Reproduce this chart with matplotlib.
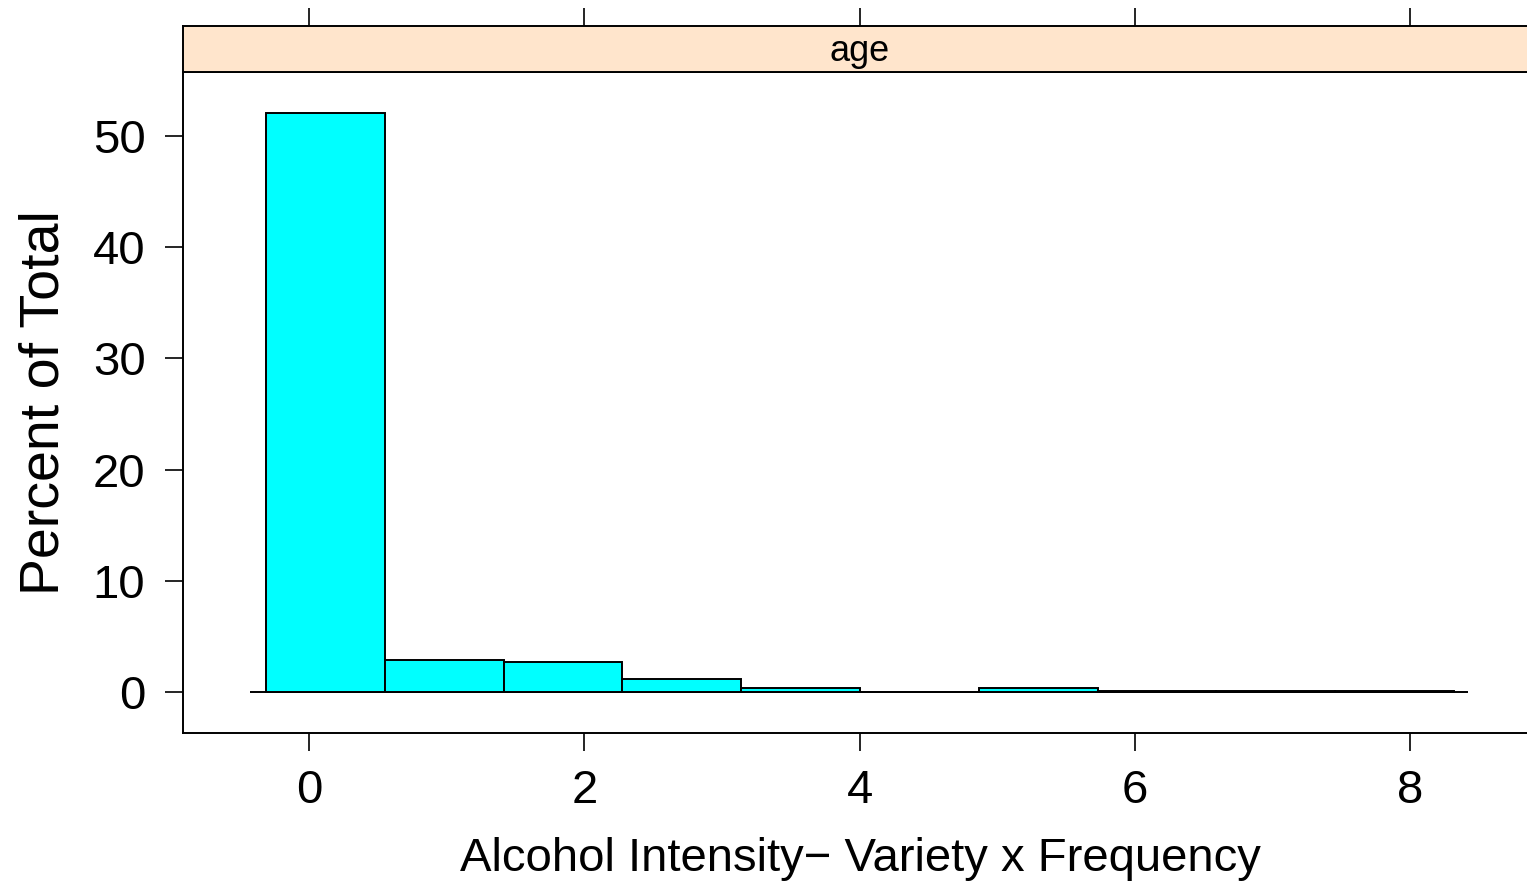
import numpy as np
import matplotlib
matplotlib.use("Agg")
import matplotlib.pyplot as plt

plt.rcParams['font.family'] = ['Liberation Sans', 'DejaVu Sans']

# histogram bins (lattice style, 10 equal bins) and percent of total
bin_lo, bin_hi = -0.313, 8.32
pct = [52.07, 2.88, 2.70, 1.17, 0.42, 0.0, 0.42, 0.09, 0.09, 0.09]
xticks = [0, 2, 4, 6, 8]
yticks = [0, 10, 20, 30, 40, 50]
strip_label = "age"
xlabel = "Alcohol Intensity\u2212 Variety x Frequency"
ylabel = "Percent of Total"

edges = np.linspace(bin_lo, bin_hi, len(pct) + 1)
widths = np.diff(edges)

W, H = 1527, 885
fig = plt.figure(figsize=(W / 100, H / 100), dpi=100)

# panel extends past the right edge, like the original
ax = fig.add_axes([183 / W, (H - 733) / H, (1537 - 183) / W, (733 - 72) / H])
strip = fig.add_axes([183 / W, (H - 72) / H, (1537 - 183) / W, (72 - 26) / H])

ax.bar(edges[:-1], pct, width=widths, align='edge', color='#00FFFF',
       edgecolor='black', linewidth=1.4, zorder=3)
ax.hlines(0, bin_lo - 0.116, bin_hi + 0.10, color='black', linewidth=1.4, zorder=2)

xr = bin_hi - bin_lo
ax.set_xlim(bin_lo - 0.07 * xr, bin_hi + 0.07 * xr)
top = max(pct)
ax.set_ylim(-0.07 * top, top * 1.07)

ax.set_xticks(xticks)
ax.set_yticks(yticks)
ax.tick_params(axis='both', direction='out', length=13, width=1.2,
               labelsize=34, pad=13, colors='black')
ax.tick_params(axis='y', pad=14)
ax.tick_params(axis='x', top=False)
ax.tick_params(axis='y', right=False)
for s in ax.spines.values():
    s.set_linewidth(1.4)

ax.set_xlabel(xlabel, fontsize=34, labelpad=17)
ax.set_ylabel(ylabel, fontsize=40, labelpad=16)

strip.set_facecolor('#FFE5CC')
strip.set_xlim(ax.get_xlim())
strip.set_ylim(0, 1)
strip.set_xticks(xticks)
strip.set_yticks([])
strip.tick_params(axis='x', bottom=False, top=True, labelbottom=False,
                  direction='out', length=13, width=1.2)
for s in strip.spines.values():
    s.set_linewidth(1.4)
strip.text(0.5 * (ax.get_xlim()[0] + ax.get_xlim()[1]), 0.45, strip_label,
           ha='center', va='center', fontsize=26)

fig.savefig("out.png", dpi=100)
